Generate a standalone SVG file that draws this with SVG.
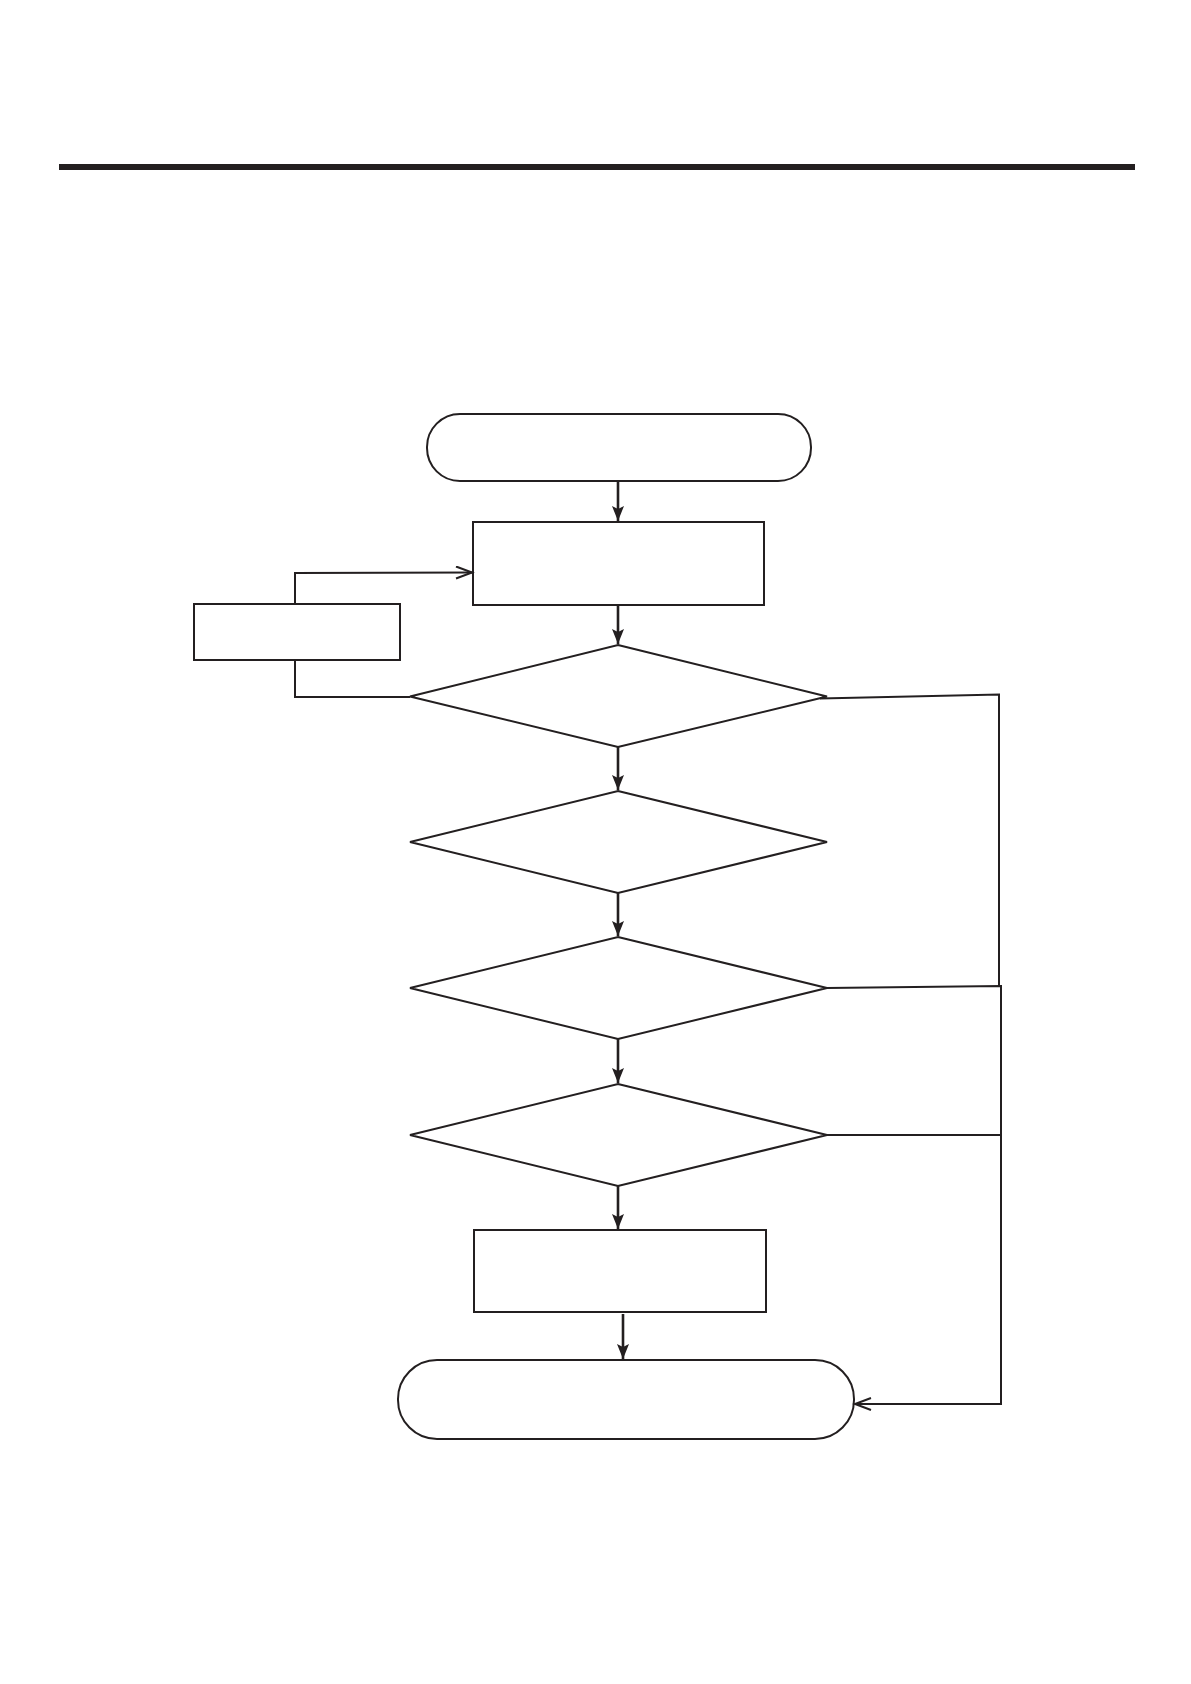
<svg xmlns="http://www.w3.org/2000/svg" width="1191" height="1684" viewBox="0 0 1191 1684">
<style>
.s{fill:#fff;stroke:#231f20;stroke-width:2}
.c{fill:none;stroke:#231f20;stroke-width:2}
.a{fill:none;stroke:#231f20;stroke-width:2.6}
</style>
<defs>
<marker id="fa" markerUnits="userSpaceOnUse" markerWidth="16" markerHeight="14" refX="15" refY="6" orient="auto">
<path d="M0,0 L15,6 L0,12 L3,6 Z" fill="#231f20"/>
</marker>
<marker id="oa" markerUnits="userSpaceOnUse" markerWidth="20" markerHeight="16" refX="17" refY="7" orient="auto">
<path d="M1,1 L17,7 L1,13" fill="none" stroke="#231f20" stroke-width="2"/>
</marker>
</defs>
<rect x="59" y="164" width="1076" height="6" fill="#231f20"/>
<g id="start"><rect class="s" x="427" y="414" width="384" height="67" rx="33" ry="33"/></g>
<g id="process1"><rect class="s" x="473" y="522" width="291" height="83"/></g>
<g id="sidebox"><rect class="s" x="194" y="604" width="206" height="56"/></g>
<g id="decision1"><polygon class="s" points="618,645 827,696.5 618,747 410,696.5"/></g>
<g id="decision2"><polygon class="s" points="618,791 827,842 618,893 410,842"/></g>
<g id="decision3"><polygon class="s" points="618,937 827,988 618,1039 410,988"/></g>
<g id="decision4"><polygon class="s" points="618,1084 827,1135 618,1186 410,1135"/></g>
<g id="process2"><rect class="s" x="474" y="1230" width="292" height="82"/></g>
<g id="end"><rect class="s" x="398" y="1360" width="456" height="79" rx="39" ry="39"/></g>
<g id="connectors">
<line class="a" x1="618" y1="481" x2="618" y2="521" marker-end="url(#fa)"/>
<line class="a" x1="618" y1="605" x2="618" y2="644" marker-end="url(#fa)"/>
<line class="a" x1="618" y1="747" x2="618" y2="790" marker-end="url(#fa)"/>
<line class="a" x1="618" y1="893" x2="618" y2="936" marker-end="url(#fa)"/>
<line class="a" x1="618" y1="1039" x2="618" y2="1083" marker-end="url(#fa)"/>
<line class="a" x1="618" y1="1186" x2="618" y2="1229" marker-end="url(#fa)"/>
<line class="a" x1="623" y1="1314" x2="623" y2="1359" marker-end="url(#fa)"/>
<polyline class="c" points="295,604 295,573 472,572.5" marker-end="url(#oa)"/>
<polyline class="c" points="410,697 295,697 295,660"/>
<polyline class="c" points="820,698.5 999,694.5 999,986"/>
<polyline class="c" points="827,988 1001,986 1001,1404 855,1404" marker-end="url(#oa)"/>
<line class="c" x1="827" y1="1135" x2="1001" y2="1135"/>
</g>
</svg>
